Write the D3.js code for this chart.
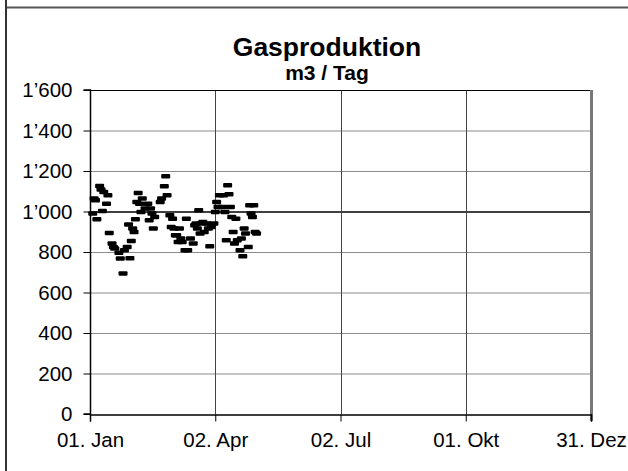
<!DOCTYPE html>
<html>
<head>
<meta charset="utf-8">
<script src="https://cdn.jsdelivr.net/npm/d3@7"></script>
<style>
  body { margin: 0; background: #fff; }
  svg { display: block; font-family: "Liberation Sans", Arial, sans-serif; }
</style>
</head>
<body>
<div class="canvas"></div>
<script>
// Data: day of year (0 = 01. Jan) and gas production in m3 / Tag
const days = [2, 3, 4, 5, 7, 8, 9, 10, 12, 13, 14, 16, 17, 18, 21, 22, 24, 25, 27, 28,
              29, 30, 31, 32, 33, 34, 35, 36, 37, 38, 40, 42, 43, 44, 45, 46, 47, 51, 52, 54,
              55, 56, 58, 59, 60, 61, 62, 63, 64, 65, 66, 67, 69, 70, 71, 73, 75, 76, 77, 78,
              79, 80, 81, 82, 83, 85, 86, 87, 88, 90, 91, 92, 93, 94, 96, 97, 98, 99, 100, 101,
              102, 103, 104, 105, 106, 107, 109, 110, 111, 112, 113, 115, 116, 117, 118, 119, 120, 121];
const values = [991, 1066, 1057, 963, 1127, 1110, 1004, 1098, 1040, 1081, 895, 843, 826, 818, 797, 769, 695, 810, 826, 937,
                770, 856, 917, 900, 963, 1048, 1093, 1040, 999, 1065, 1016, 1040, 958, 1016, 991, 917, 974, 1048, 1065, 1126,
                1175, 1081, 983, 925, 966, 917, 884, 884, 851, 917, 868, 851, 810, 966, 810, 868, 843, 933, 942, 917,
                1007, 892, 942, 950, 900, 942, 917, 830, 925, 942, 999, 1048, 1024, 1081, 1024, 1081, 999, 859, 1131, 1086,
                1024, 974, 900, 843, 966, 859, 810, 868, 780, 917, 892, 826, 1032, 991, 974, 1032, 900, 892];
const y_ticks = [0, 200, 400, 600, 800, 1000, 1200, 1400, 1600];
const x_tick_dates = ["2007-01-01", "2007-04-02", "2007-07-02", "2007-10-01", "2007-12-31"];
const x_tick_labels = ["01. Jan", "02. Apr", "02. Jul", "01. Okt", "31. Dez"];

// Settings
const width = 628;
const height = 471;
const plot = {left: 90, right: 591, top: 90, bottom: 414};
const grid_color = "#8c8c8c";
const vgrid_color = "#444";
const font_size = 20.5;

const start = new Date(2007, 0, 1);
const points = days.map((d, i) => ({date: d3.timeDay.offset(start, d), value: values[i]}));
const tick_dates = x_tick_dates.map(s => d3.timeParse("%Y-%m-%d")(s));

const svg = d3.select(".canvas").append("svg")
  .attr("width", width)
  .attr("height", height);

// outer frame lines
svg.append("line").attr("x1", 6).attr("x2", width).attr("y1", 7.5).attr("y2", 7.5)
  .attr("stroke", "#555").attr("stroke-width", 2);
svg.append("line").attr("x1", 6).attr("x2", 6).attr("y1", 0).attr("y2", height)
  .attr("stroke", "#333").attr("stroke-width", 2);

// scales
const x = d3.scaleTime()
  .domain([tick_dates[0], tick_dates[tick_dates.length - 1]])
  .range([plot.left, plot.right]);
const y = d3.scaleLinear().domain([0, 1600]).range([plot.bottom, plot.top]);

const locale = d3.formatLocale({decimal: ".", thousands: "\u2019", grouping: [3], currency: ["", ""]});
const fmt = locale.format(",d");

// horizontal gridlines
svg.append("g")
  .selectAll("line")
  .data(y_ticks.filter(v => v > 0 && v < 1600))
  .enter()
  .append("line")
  .attr("x1", plot.left).attr("x2", plot.right)
  .attr("y1", d => y(d) + 0.5).attr("y2", d => y(d) + 0.5)
  .attr("stroke", d => d == 1000 ? "#000" : grid_color)
  .attr("stroke-width", d => d == 1000 ? 1.5 : 1);

// vertical gridlines
svg.append("g")
  .selectAll("line")
  .data(tick_dates.slice(1, -1))
  .enter()
  .append("line")
  .attr("x1", d => Math.round(x(d)) + 0.5).attr("x2", d => Math.round(x(d)) + 0.5)
  .attr("y1", plot.top).attr("y2", plot.bottom)
  .attr("stroke", vgrid_color);

// plot area border (right side has grey shadow)
svg.append("line").attr("x1", plot.left).attr("x2", plot.right).attr("y1", plot.top + 0.5).attr("y2", plot.top + 0.5)
  .attr("stroke", "#000");
svg.append("line").attr("x1", plot.right + 0.5).attr("x2", plot.right + 0.5).attr("y1", plot.top).attr("y2", plot.bottom + 7)
  .attr("stroke", "#777").attr("stroke-width", 3);

// y axis
const yAxis = svg.append("g")
  .attr("transform", "translate(" + (plot.left + 0.5) + ",0)")
  .call(d3.axisLeft(y).tickValues(y_ticks).tickFormat(fmt).tickSize(7).tickPadding(11));

// x axis
const xAxis = svg.append("g")
  .attr("transform", "translate(0," + (plot.bottom + 0.5) + ")")
  .call(d3.axisBottom(x).tickValues(tick_dates).tickFormat((d, i) => x_tick_labels[i]).tickSize(7).tickPadding(11));

[yAxis, xAxis].forEach(a => {
  a.select(".domain").attr("stroke", "#000").attr("stroke-width", 1.5);
  a.selectAll(".tick line").attr("stroke", "#000");
  a.selectAll(".tick text")
    .attr("fill", "#000")
    .attr("font-size", font_size + "px")
    .attr("font-family", "Liberation Sans, Arial, sans-serif");
});
yAxis.select(".domain").attr("d", "M-7," + plot.top + "H0V" + plot.bottom + "H-7");

// markers: short horizontal dashes
svg.append("g")
  .selectAll("rect")
  .data(points)
  .enter()
  .append("rect")
  .attr("x", d => x(d.date) - 4.5)
  .attr("y", d => y(d.value) - 2)
  .attr("width", 9)
  .attr("height", 4.5)
  .attr("rx", 1)
  .attr("fill", "#000");

// titles
svg.append("text")
  .attr("x", 327).attr("y", 56)
  .attr("text-anchor", "middle")
  .attr("font-size", "26.5px")
  .attr("font-weight", "bold")
  .text("Gasproduktion");
svg.append("text")
  .attr("x", 327).attr("y", 80)
  .attr("text-anchor", "middle")
  .attr("font-size", "21px")
  .attr("font-weight", "bold")
  .text("m3 / Tag");
</script>
</body>
</html>
